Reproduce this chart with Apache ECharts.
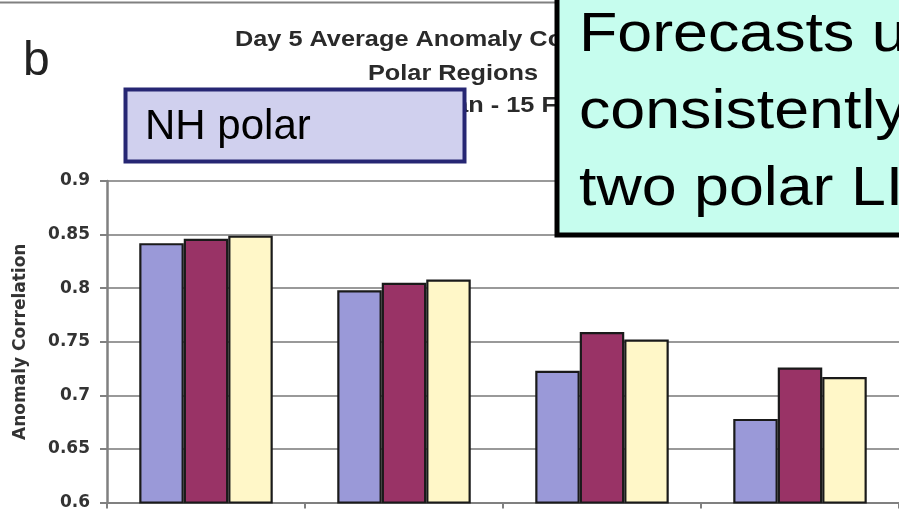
<!DOCTYPE html>
<html>
<head>
<meta charset="utf-8">
<script src="https://cdn.jsdelivr.net/npm/echarts@6/dist/echarts.min.js"></script>
<style>
  html, body { margin: 0; padding: 0; background: #fff; }
  #main { width: 899px; height: 512px; }
</style>
</head>
<body>
<div id="main"></div>
<script>
// values (x labels are cut off below the frame)
var categories = ['1', '2', '3', '4'];
var seriesNames = ['Series 1', 'Series 2', 'Series 3'];
var blueVals = [0.842, 0.798, 0.723, 0.678];
var redVals = [0.846, 0.805, 0.759, 0.726];
var yellowVals = [0.849, 0.808, 0.752, 0.717];
var yTicks = [0.6, 0.65, 0.7, 0.75, 0.8, 0.85, 0.9];

var colors = ['#9a99d8', '#993366', '#fff7c8'];

var myChart = echarts.init(document.getElementById('main'));

function bar(name, data, color) {
    return {
        name: name,
        type: 'bar',
        data: data,
        barWidth: 44.5,
        barGap: '0%',
        itemStyle: {color: color, borderColor: '#1a1a1a', borderWidth: 2.2}
    };
}

// the slide image is a bit stretched sideways, so text gets scaleX
var titleFont = 'bold 22px "Liberation Sans"';
var boxFont = '56px "Liberation Sans"';

myChart.setOption({
    animation: false,
    grid: {left: 107, right: -5, top: 181, bottom: 9.5, containLabel: false},
    xAxis: {
        type: 'category',
        data: categories,
        axisLine: {lineStyle: {color: '#808080', width: 2}},
        axisTick: {show: true, length: 6, lineStyle: {color: '#808080', width: 2}},
        axisLabel: {show: false}
    },
    yAxis: {
        type: 'value',
        min: yTicks[0],
        max: yTicks[yTicks.length - 1],
        interval: 0.05,
        name: 'Anomaly Correlation',
        nameLocation: 'middle',
        nameRotate: 90,
        nameGap: 78,
        nameTextStyle: {fontFamily: 'DejaVu Sans', fontWeight: 'bold', fontSize: 17, color: '#333'},
        axisLine: {show: true, lineStyle: {color: '#808080', width: 2.5}},
        axisTick: {show: true, length: 7, lineStyle: {color: '#808080', width: 2}},
        axisLabel: {margin: 17, fontFamily: 'DejaVu Sans', fontWeight: 'bold', fontSize: 17, color: '#333'},
        splitLine: {lineStyle: {color: '#999', width: 2}}
    },
    series: [
        bar(seriesNames[0], blueVals, colors[0]),
        bar(seriesNames[1], redVals, colors[1]),
        bar(seriesNames[2], yellowVals, colors[2])
    ],
    graphic: [
        // frame line on top
        {type: 'line', z: 1, shape: {x1: 0, y1: 2.5, x2: 899, y2: 2.5}, style: {stroke: '#808080', lineWidth: 2}},
        {type: 'text', z: 1, left: 23, top: 38, style: {text: 'b', font: '48px "Liberation Sans"', fill: '#222'}},
        // chart title (partly covered by the boxes)
        {type: 'text', z: 1, x: 235, y: 40, scaleX: 1.15, style: {text: 'Day 5 Average Anomaly Correlation', font: titleFont, fill: '#2a2a2a', verticalAlign: 'middle'}},
        {type: 'text', z: 1, x: 453, y: 74, scaleX: 1.15, style: {text: 'Polar Regions', font: titleFont, fill: '#2a2a2a', align: 'center', verticalAlign: 'middle'}},
        {type: 'text', z: 1, x: 405, y: 106, scaleX: 1.15, style: {text: '15 Jan - 15 Feb', font: titleFont, fill: '#2a2a2a', verticalAlign: 'middle'}},
        // NH polar label box
        {type: 'rect', z: 10, shape: {x: 125.5, y: 89.5, width: 339, height: 72}, style: {fill: '#d0d0ee', stroke: '#262673', lineWidth: 4}},
        {type: 'text', z: 11, x: 145, y: 127, style: {text: 'NH polar', font: '42px "Liberation Sans"', fill: '#000', verticalAlign: 'middle'}},
        // annotation box on the right
        {type: 'rect', z: 10, shape: {x: 557, y: -10, width: 400, height: 245}, style: {fill: '#c6fdee', stroke: '#000', lineWidth: 5}},
        {type: 'text', z: 11, x: 579, y: 36, scaleX: 1.12, style: {text: 'Forecasts using', font: boxFont, fill: '#000', verticalAlign: 'middle'}},
        {type: 'text', z: 11, x: 579, y: 113, scaleX: 1.12, style: {text: 'consistently', font: boxFont, fill: '#000', verticalAlign: 'middle'}},
        {type: 'text', z: 11, x: 579, y: 190, scaleX: 1.12, style: {text: 'two polar LIMs', font: boxFont, fill: '#000', verticalAlign: 'middle'}}
    ]
});
</script>
</body>
</html>
